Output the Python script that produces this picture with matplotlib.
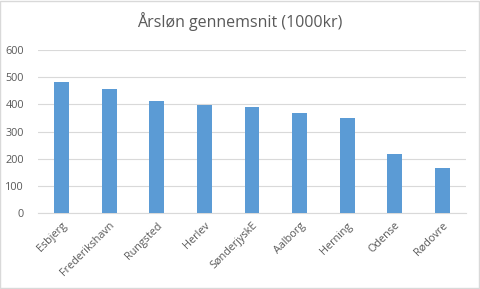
import matplotlib.pyplot as plt
from matplotlib.patches import Rectangle

cities = ["Esbjerg", "Frederikshavn", "Rungsted", "Herlev", "SønderjyskE",
          "Aalborg", "Herning", "Odense", "Rødovre"]
salary = [482, 458, 413, 398, 391, 369, 350, 218, 167]
y_ticks = [0, 100, 200, 300, 400, 500, 600]

TEXT_COLOR = "#595959"
BAR_COLOR = "#5B9BD5"
GRID_COLOR = "#D9D9D9"

plt.rcParams["font.family"] = ["Open Sans", "DejaVu Sans"]

fig = plt.figure(figsize=(4.8, 2.89), dpi=100)
ax = fig.add_axes([0.079, 0.262, 0.892, 0.565])

x = range(len(cities))
ax.bar(x, salary, width=0.315, color=BAR_COLOR, zorder=3)

ax.set_xlim(-0.5, len(cities) - 0.5)
ax.set_ylim(0, 600)
ax.set_yticks(y_ticks)
ax.set_xticks(list(x))
ax.set_xticklabels(cities, rotation=45, ha="right", rotation_mode="anchor")

ax.grid(axis="y", color=GRID_COLOR, linewidth=0.8, zorder=0)
for side in ["top", "right", "left"]:
    ax.spines[side].set_visible(False)
ax.spines["bottom"].set_color(GRID_COLOR)
ax.tick_params(axis="both", length=0, labelsize=7.8, colors=TEXT_COLOR)
ax.tick_params(axis="y", pad=10)
ax.tick_params(axis="x", pad=5)

fig.text(0.5, 0.925, "Årsløn gennemsnit (1000kr)", ha="center", va="center",
         fontsize=11.5, color=TEXT_COLOR)

fig.patches.append(Rectangle((0.001, 0.002), 0.997, 0.995, transform=fig.transFigure,
                             fill=False, edgecolor=GRID_COLOR, linewidth=1))

fig.savefig("out.png", dpi=100)
